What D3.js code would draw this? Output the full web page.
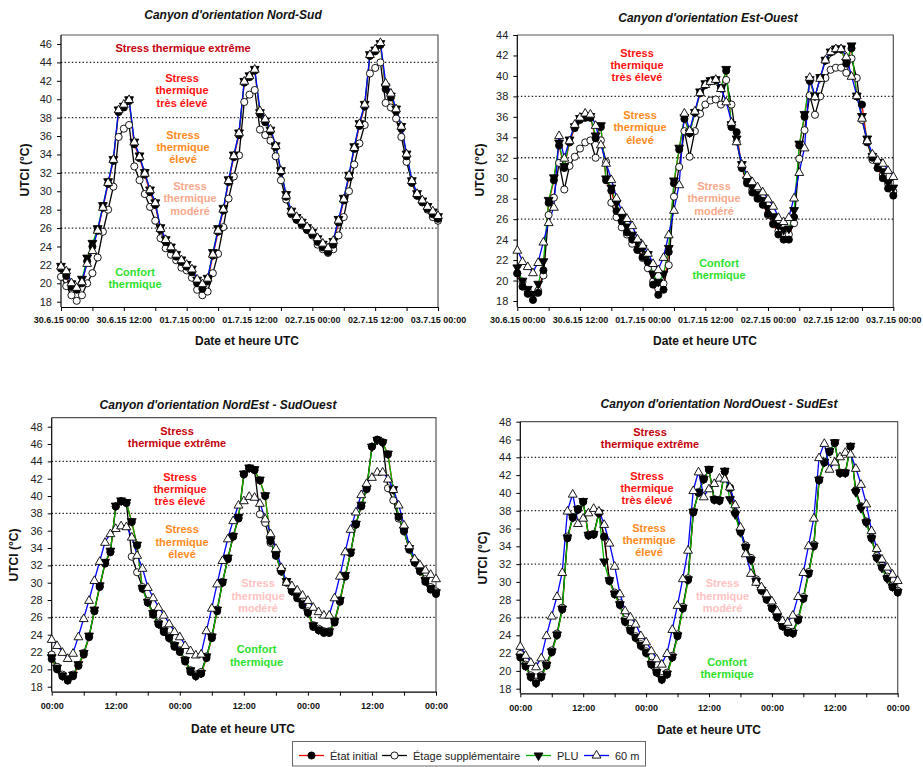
<!DOCTYPE html>
<html><head><meta charset="utf-8">
<script src="https://cdn.jsdelivr.net/npm/d3@7"></script>
<style>
body{margin:0;background:#fff;}
svg text{font-family:"Liberation Sans",Arial,sans-serif;}
</style></head>
<body><svg id="c" width="923" height="767"></svg>
<script>
// ---------- DATA (UTCI °C, hourly, 30.6.2015 00:00 -> 03.7.2015 00:00 UTC) ----------
const startUTC = Date.UTC(2015, 5, 30, 0);
const hourCount = 73;
const thresholds = [26, 32, 38, 44];
const seriesNames = ["État initial", "Étage supplémentaire", "PLU", "60 m"];

// Panel 1 : Nord-Sud
const ns_init  = [21.6,20.8,19.6,19.3,20.0,22.4,24.0,25.7,28.2,30.8,33.3,38.6,39.1,39.8,35.1,33.6,31.8,29.9,28.5,25.8,24.5,23.7,22.9,22.3,21.8,21.2,20.0,19.4,20.2,23.0,25.6,27.9,31.0,33.7,36.1,41.8,42.4,43.1,38.4,37.5,36.5,34.8,32.1,29.4,27.6,26.9,26.4,25.8,25.3,24.5,23.9,23.4,24.2,26.6,29.0,31.5,34.6,37.1,39.2,44.7,45.2,45.9,41.1,40.2,38.7,36.8,33.8,30.9,29.5,28.8,28.1,27.5,27.0];
const ns_etage = [20.7,19.7,18.7,18.1,18.7,20.0,21.1,22.8,25.6,28.0,30.5,35.9,36.8,37.2,32.7,31.2,29.7,28.3,26.8,24.9,23.8,23.1,22.5,21.7,21.4,20.6,19.3,18.7,19.1,21.1,23.2,26.1,29.2,31.6,33.9,39.7,40.5,41.0,36.7,36.1,35.5,33.8,31.2,29.1,27.5,26.9,26.3,25.8,25.2,24.2,23.7,23.3,23.7,25.2,27.2,30.0,32.9,35.2,37.2,42.8,43.4,44.0,39.6,39.1,37.9,35.9,33.2,31.0,29.6,28.8,28.0,27.2,26.8];
const ns_plu   = [21.8,21.2,19.9,19.4,20.4,22.7,24.3,25.9,28.4,31.0,33.4,38.8,39.2,39.9,35.3,33.8,32.0,30.1,28.7,26.0,24.7,23.9,23.1,22.5,22.0,21.5,20.3,19.8,20.5,23.3,25.9,28.1,31.2,33.9,36.3,41.9,42.5,43.2,38.5,37.6,36.6,34.9,32.2,29.6,27.8,27.1,26.6,26.0,25.5,24.8,24.2,23.7,24.5,26.9,29.2,31.7,34.8,37.3,39.4,44.8,45.3,46.0,41.3,40.3,38.9,37.0,34.0,31.1,29.7,28.9,28.3,27.7,27.2];
const ns_60m   = [21.9,21.4,20.1,19.6,20.2,22.2,23.6,25.8,28.3,31.0,33.5,38.9,39.5,40.0,35.4,33.8,32.0,30.2,28.8,26.0,24.8,24.0,23.2,22.6,22.1,21.6,20.5,20.0,20.6,23.2,25.8,28.1,31.2,33.9,36.4,42.0,42.6,43.3,38.8,37.9,36.8,35.0,32.3,29.6,27.9,27.3,26.8,26.2,25.7,25.0,24.4,23.9,24.7,26.9,29.2,31.8,34.8,37.4,39.5,44.9,45.5,46.2,41.8,40.7,39.0,37.1,34.1,31.2,29.8,29.1,28.4,27.9,27.4];

// Panel 2 : Est-Ouest
const eo_init  = [20.7,19.4,18.7,18.1,18.8,21.0,27.6,29.8,33.2,31.0,33.5,34.9,35.7,35.9,35.9,33.9,35.0,29.8,28.8,26.8,25.8,24.7,24.0,23.0,22.3,21.8,19.6,18.6,19.1,22.8,29.5,32.8,35.8,34.4,36.4,38.3,39.1,39.5,39.6,38.8,40.5,35.0,34.5,31.0,29.5,28.6,28.0,27.4,26.5,25.5,24.5,24.0,24.0,26.2,33.2,36.0,39.5,38.0,39.8,41.5,42.3,42.6,42.6,41.2,42.7,38.0,37.2,33.5,32.0,31.0,30.0,29.0,28.3];
const eo_etage = [20.7,19.9,19.0,18.6,19.0,20.5,26.4,28.1,31.5,28.9,31.2,32.1,32.9,33.5,33.7,32.0,33.7,31.6,27.6,26.2,25.2,24.5,23.6,23.0,22.2,21.2,19.9,19.2,19.7,21.5,28.2,31.1,34.6,32.1,34.6,36.3,37.2,37.6,37.7,37.2,39.6,37.2,33.6,31.0,29.7,28.9,28.2,27.6,26.4,25.6,24.8,24.5,24.5,25.6,31.9,34.7,38.1,36.2,38.0,39.8,40.6,40.8,40.8,40.3,41.7,39.8,35.7,33.6,31.8,31.0,30.3,29.5,28.7];
const eo_plu   = [21.2,19.9,19.1,18.6,19.6,21.8,27.8,30.0,33.4,31.1,33.7,35.0,35.8,36.0,36.0,34.1,35.1,29.9,29.0,27.5,26.2,25.2,24.4,23.7,23.1,22.5,20.6,19.8,20.6,23.1,29.7,32.9,35.9,34.4,36.4,38.4,39.2,39.5,39.6,38.8,40.6,35.2,33.8,31.3,29.8,29.0,28.4,27.8,27.0,26.2,25.3,24.9,25.0,26.8,33.3,36.2,39.6,38.0,39.8,41.5,42.3,42.6,42.6,41.3,42.9,38.0,36.0,33.8,32.1,31.5,30.6,29.5,29.0];
const eo_60m   = [23.0,21.9,21.4,20.8,21.8,23.8,25.7,27.2,34.2,32.0,33.7,35.3,36.0,36.4,36.3,35.2,33.3,31.5,29.9,28.1,26.8,26.1,25.4,24.1,23.5,22.7,21.7,21.1,22.3,24.5,26.9,29.4,36.4,34.7,36.6,38.4,39.2,39.5,39.7,38.8,37.5,35.5,33.6,31.4,30.3,29.7,29.2,28.7,28.0,27.3,26.2,25.8,26.2,28.1,30.6,33.0,39.9,38.0,39.8,41.6,42.4,42.7,42.7,41.9,40.0,38.1,35.9,33.7,32.4,31.8,31.5,30.8,30.2];

// Panel 3 : NordEst - SudOuest
const neso_init  = [21.2,20.0,19.2,18.7,19.2,20.4,21.7,23.7,26.7,29.5,32.2,33.5,38.8,39.4,39.2,37.0,34.3,29.3,27.7,26.3,25.2,24.3,23.6,22.6,22.0,20.9,19.7,19.2,19.5,21.3,23.6,26.7,30.0,32.7,35.3,37.4,42.5,43.2,43.0,41.8,40.0,34.8,33.1,31.3,30.0,29.0,28.2,27.4,26.5,24.9,24.5,24.2,24.2,25.4,27.8,30.7,33.4,36.7,38.8,40.8,45.7,46.5,46.2,44.8,40.7,37.6,36.0,33.8,32.3,31.3,30.1,29.2,28.7];
const neso_etage = [21.7,20.3,19.4,18.9,19.4,20.5,21.9,23.8,26.8,29.6,32.3,33.6,38.8,39.4,39.2,33.0,31.2,29.5,27.9,26.5,25.4,24.5,23.8,22.8,22.2,21.1,19.9,19.4,19.7,21.5,23.8,26.9,30.1,32.8,35.4,37.5,42.5,43.2,43.0,37.9,36.9,34.6,33.2,31.4,30.1,29.1,28.4,27.6,26.7,25.1,24.7,24.4,24.4,25.6,28.0,30.8,33.5,36.8,38.9,40.9,45.7,46.5,46.2,40.9,39.5,37.4,35.9,33.9,32.5,31.5,30.4,29.5,29.0];
const neso_plu   = [21.3,20.1,19.2,18.8,19.3,20.5,21.8,23.8,26.8,29.6,32.3,33.6,38.8,39.4,39.2,37.0,34.3,29.3,27.7,26.4,25.2,24.4,23.6,22.7,22.1,21.0,19.8,19.2,19.5,21.4,23.7,26.8,30.0,32.8,35.3,37.5,42.5,43.2,43.0,41.8,40.0,34.8,33.2,31.3,30.1,29.0,28.3,27.5,26.5,25.0,24.5,24.3,24.3,25.5,27.9,30.8,33.5,36.7,38.9,40.8,45.6,46.4,46.1,44.8,40.7,37.6,36.0,33.9,32.3,31.3,30.2,29.3,28.8];
const neso_60m   = [23.5,22.8,22.0,21.3,21.9,23.8,25.9,28.0,30.3,32.5,34.7,35.7,36.3,36.6,36.5,35.3,33.2,31.7,29.5,28.3,27.2,26.3,25.3,24.4,23.8,22.8,22.2,21.7,21.8,24.5,27.1,29.9,32.6,35.1,37.2,39.0,39.5,40.0,39.9,39.2,37.4,35.7,34.0,31.8,30.1,29.7,29.2,28.6,28.0,27.2,26.7,26.3,26.3,28.3,30.8,33.6,36.2,38.2,40.2,41.5,42.2,42.8,42.8,42.0,40.8,39.0,36.7,34.3,32.8,32.1,31.5,31.0,30.5];

// Panel 4 : NordOuest - SudEst
const nose_init  = [21.5,20.5,19.3,18.6,19.3,20.6,22.1,24.0,26.9,34.9,37.2,38.1,39.0,35.2,35.3,37.7,35.1,30.1,28.6,27.4,25.5,24.5,23.7,22.8,22.0,20.7,19.8,19.0,19.6,21.5,23.9,27.0,30.2,37.8,40.0,41.5,42.6,39.2,39.1,42.4,40.6,37.7,35.6,33.9,32.5,30.1,29.0,28.0,27.0,26.0,25.0,24.3,24.2,25.7,28.1,30.9,34.0,41.4,43.4,44.6,45.6,42.2,42.2,45.2,40.2,38.4,36.7,34.9,32.7,31.6,30.4,29.4,28.8];
const nose_etage = [21.9,20.7,19.5,18.8,19.5,20.8,22.3,24.2,27.1,35.1,37.3,38.2,39.0,35.3,35.4,37.8,35.0,30.2,28.8,27.6,25.7,24.7,23.9,23.0,22.2,20.9,20.0,19.2,19.8,21.7,24.1,27.2,30.4,37.9,40.1,41.6,42.6,39.3,39.2,42.4,40.5,37.8,35.8,34.1,32.7,30.3,29.2,28.2,27.2,26.2,25.2,24.5,24.4,25.9,28.3,31.1,34.2,41.5,43.5,44.7,45.6,42.3,42.3,45.2,40.3,38.5,36.8,35.0,32.9,31.8,30.6,29.6,29.0];
const nose_plu   = [21.5,20.5,19.3,18.6,19.3,20.6,22.1,24.0,26.9,34.9,37.2,38.1,39.0,35.2,35.3,37.7,32.2,30.1,28.6,27.4,25.5,24.5,23.7,22.8,22.0,20.7,19.8,19.0,19.6,21.5,23.9,27.0,30.2,37.8,40.0,41.5,42.6,39.2,39.1,42.4,39.2,37.5,35.5,33.8,32.4,30.0,29.0,28.0,27.0,26.0,25.0,24.3,24.2,25.7,28.1,30.9,34.0,41.4,43.4,44.6,45.6,42.2,42.2,45.2,40.0,38.2,36.6,34.8,32.6,31.5,30.3,29.4,28.8];
const nose_60m   = [22.8,21.8,21.0,20.5,21.5,24.0,26.2,28.4,31.1,38.0,39.9,36.6,37.2,37.8,38.3,38.0,36.5,34.4,31.8,28.7,26.8,26.1,25.3,24.0,23.3,22.3,21.4,20.8,22.0,24.7,27.4,30.4,33.6,40.3,42.4,39.6,40.5,41.1,41.7,41.6,40.7,38.7,36.2,33.2,31.0,30.0,29.5,28.7,27.9,26.8,25.7,25.5,26.3,28.4,31.1,34.1,37.2,44.0,45.6,42.7,43.5,44.1,44.6,44.4,42.8,41.0,38.8,35.8,33.8,32.6,31.7,30.9,30.2];

// Text labels
const titles = ["Canyon d'orientation Nord-Sud", "Canyon d'orientation Est-Ouest", "Canyon d'orientation NordEst - SudOuest", "Canyon d'orientation NordOuest - SudEst"];
const xTitle = "Date et heure UTC";
const yTitle = "UTCI (°C)";
const zoneExtreme1 = ["Stress thermique extrême"];
const zoneExtreme2 = ["Stress", "thermique extrême"];
const zoneTres = ["Stress", "thermique", "très élevé"];
const zoneEleve = ["Stress", "thermique", "élevé"];
const zoneModere = ["Stress", "thermique", "modéré"];
const zoneConfort = ["Confort", "thermique"];

// ---------- STYLE / LAYOUT ----------
const C = {ext:"#c4000c", tres:"#ff1010", eleve:"#ff8a1c", modTop:"#f8a98c", modBot:"#ffc2c2", conf:"#2ee02e"};
const seriesStyle = [
  {line:"#ff0000", sym:"circle", fill:"#000"},
  {line:"#000000", sym:"circle", fill:"#fff"},
  {line:"#00b400", sym:"down",   fill:"#000"},
  {line:"#0000ff", sym:"up",     fill:"#fff"}
];
const times = d3.range(hourCount).map(h => new Date(startUTC + h * 3600e3));

const panels = [
  {title:titles[0], data:[ns_init, ns_etage, ns_plu, ns_60m], x0:61, x1:438, yMax:46, y18:301.7, yMaxPos:44, frameTop:35, frameBot:307,
   dateLabels:true, titleX:233, titleY:19, xtX:247, xtY:345, ytX:29, ytY:170, tickPad:6,
   zones:[[zoneExtreme1,C.ext,183,48],[zoneTres,C.tres,182,78],[zoneEleve,C.eleve,183,134.5],[zoneModere,C.modTop,190,186],[zoneConfort,C.conf,135,272]]},
  {title:titles[1], data:[eo_init, eo_etage, eo_plu, eo_60m], x0:517.3, x1:893.3, yMax:44, y18:301, yMaxPos:35, frameTop:35, frameBot:307,
   dateLabels:true, titleX:708, titleY:21.5, xtX:705, xtY:345, ytX:484, ytY:170, tickPad:6,
   zones:[[zoneTres,C.tres,637,52.5],[zoneEleve,C.eleve,640,115],[zoneModere,C.modTop,714,186],[zoneConfort,C.conf,719,262.7]]},
  {title:titles[2], data:[neso_init, neso_etage, neso_plu, neso_60m], x0:51.7, x1:436, yMax:48, y18:686.7, yMaxPos:426.7, frameTop:417.7, frameBot:691.7,
   dateLabels:false, titleX:218, titleY:409, xtX:243, xtY:732.5, ytX:18, ytY:555, tickPad:7,
   zones:[[zoneExtreme2,C.ext,177,431],[zoneTres,C.tres,180,476.7],[zoneEleve,C.eleve,182,529.3],[zoneModere,C.modBot,258,583.3],[zoneConfort,C.conf,256.5,649.3]]},
  {title:titles[3], data:[nose_init, nose_etage, nose_plu, nose_60m], x0:520.3, x1:897.7, yMax:48, y18:688.7, yMaxPos:421.7, frameTop:421.7, frameBot:693.3,
   dateLabels:false, titleX:719, titleY:408, xtX:709, xtY:733.5, ytX:487, ytY:558, tickPad:7,
   zones:[[zoneExtreme2,C.ext,650,432],[zoneTres,C.tres,647,475.7],[zoneEleve,C.eleve,649,527.7],[zoneModere,C.modBot,722.5,583.3],[zoneConfort,C.conf,727,661.7]]}
];

const svg = d3.select("#c");
const fmtDate = d3.utcFormat("%d.%-m.%y %H:%M");
const fmtHour = d3.utcFormat("%H:%M");
const symCircle = d3.symbol().type(d3.symbolCircle).size(40);
const symTri = d3.symbol().type(d3.symbolTriangle).size(34);

function drawPanel(p) {
  const g = svg.append("g");
  const x = d3.scaleUtc().domain([times[0], times[hourCount - 1]]).range([p.x0, p.x1]);
  const y = d3.scaleLinear().domain([18, p.yMax]).range([p.y18, p.yMaxPos]);

  // frame (top / right)
  g.append("path").attr("d", `M${p.x0},${p.frameTop}H${p.x1}V${p.frameBot}`)
    .attr("fill", "none").attr("stroke", "#555").attr("stroke-width", 1.2);

  // threshold dotted lines
  g.selectAll(".thr").data(thresholds.filter(t => t < p.yMax)).join("line")
    .attr("x1", p.x0).attr("x2", p.x1).attr("y1", d => y(d)).attr("y2", d => y(d))
    .attr("stroke", "#222").attr("stroke-width", 1.3).attr("stroke-dasharray", "1.4,2.2");

  // zone labels
  p.zones.forEach(([lines, col, cx, cy]) => {
    const t = g.append("text").attr("text-anchor", "middle").attr("fill", col)
      .attr("font-size", 11).attr("font-weight", "bold");
    lines.forEach((s, i) => t.append("tspan").attr("x", cx).attr("y", cy + 4 + i * 12.3).text(s));
  });

  // axes
  const xAxis = d3.axisBottom(x).ticks(d3.utcHour.every(6)).tickSizeInner(4).tickSizeOuter(0).tickPadding(p.tickPad)
    .tickFormat(d => d.getUTCHours() % 12 === 0 ? (p.dateLabels ? fmtDate(d) : fmtHour(d)) : "");
  const gx = g.append("g").attr("transform", `translate(0,${p.frameBot})`).call(xAxis);
  gx.selectAll("text").attr("font-size", 9).attr("font-weight", "bold").attr("fill", "#111")
    .attr("font-family", "'Liberation Sans',Arial,sans-serif");
  gx.select(".domain").attr("stroke", "#000").attr("stroke-width", 1.2);
  gx.selectAll(".tick line").attr("stroke", "#000");

  const yAxis = d3.axisLeft(y).tickValues(d3.range(18, p.yMax + 1, 2)).tickSizeInner(4).tickSizeOuter(0).tickPadding(5);
  const gy = g.append("g").attr("transform", `translate(${p.x0},0)`).call(yAxis);
  gy.select(".domain").attr("d", `M0,${p.frameBot}V${p.frameTop}`).attr("stroke", "#000").attr("stroke-width", 1.2);
  gy.selectAll("text").attr("font-size", 11).attr("fill", "#222").attr("font-family", "'Liberation Sans',Arial,sans-serif");
  gy.selectAll(".tick line").attr("stroke", "#000");

  // titles
  g.append("text").attr("x", p.titleX).attr("y", p.titleY).attr("text-anchor", "middle")
    .attr("font-size", 12).attr("font-weight", "bold").attr("font-style", "italic").attr("fill", "#111").text(p.title);
  g.append("text").attr("x", p.xtX).attr("y", p.xtY).attr("text-anchor", "middle")
    .attr("font-size", 12).attr("font-weight", "bold").attr("fill", "#111").text(xTitle);
  g.append("text").attr("transform", `translate(${p.ytX},${p.ytY}) rotate(-90)`).attr("text-anchor", "middle")
    .attr("font-size", 12).attr("font-weight", "bold").attr("fill", "#111").text(yTitle);

  // lines
  const line = d3.line().x((d, i) => x(times[i])).y(d => y(d));
  p.data.forEach((arr, k) => {
    g.append("path").datum(arr).attr("d", line).attr("fill", "none")
      .attr("stroke", seriesStyle[k].line).attr("stroke-width", 1.3);
  });
  // symbols (étage, PLU, initial, 60 m)
  [1, 2, 0, 3].forEach(k => {
    const st = seriesStyle[k];
    g.append("g").selectAll("path").data(p.data[k]).join("path")
      .attr("d", st.sym === "circle" ? symCircle() : symTri())
      .attr("transform", (d, i) => `translate(${x(times[i])},${y(d) + (st.sym === "down" ? -0.8 : st.sym === "up" ? 0.8 : 0)})` + (st.sym === "down" ? " rotate(180)" : ""))
      .attr("fill", st.fill).attr("stroke", "#000").attr("stroke-width", 0.9);
  });
}
panels.forEach(drawPanel);

// legend
const lg = svg.append("g");
lg.append("rect").attr("x", 292.5).attr("y", 741.5).attr("width", 353).attr("height", 24.5)
  .attr("fill", "#fff").attr("stroke", "#666").attr("stroke-width", 1);
const legendX = [299, 382, 526, 584];
seriesNames.forEach((name, k) => {
  const st = seriesStyle[k];
  const lx = legendX[k];
  lg.append("line").attr("x1", lx).attr("x2", lx + 25).attr("y1", 755.5).attr("y2", 755.5)
    .attr("stroke", st.line).attr("stroke-width", 1.3);
  lg.append("path").attr("d", st.sym === "circle" ? symCircle() : symTri())
    .attr("transform", `translate(${lx + 12.5},755.5)` + (st.sym === "down" ? " rotate(180)" : ""))
    .attr("fill", st.fill).attr("stroke", "#000").attr("stroke-width", 0.9);
  lg.append("text").attr("x", lx + 31).attr("y", 759.5).attr("font-size", 11).attr("fill", "#222").text(name);
});
</script>
</body></html>
